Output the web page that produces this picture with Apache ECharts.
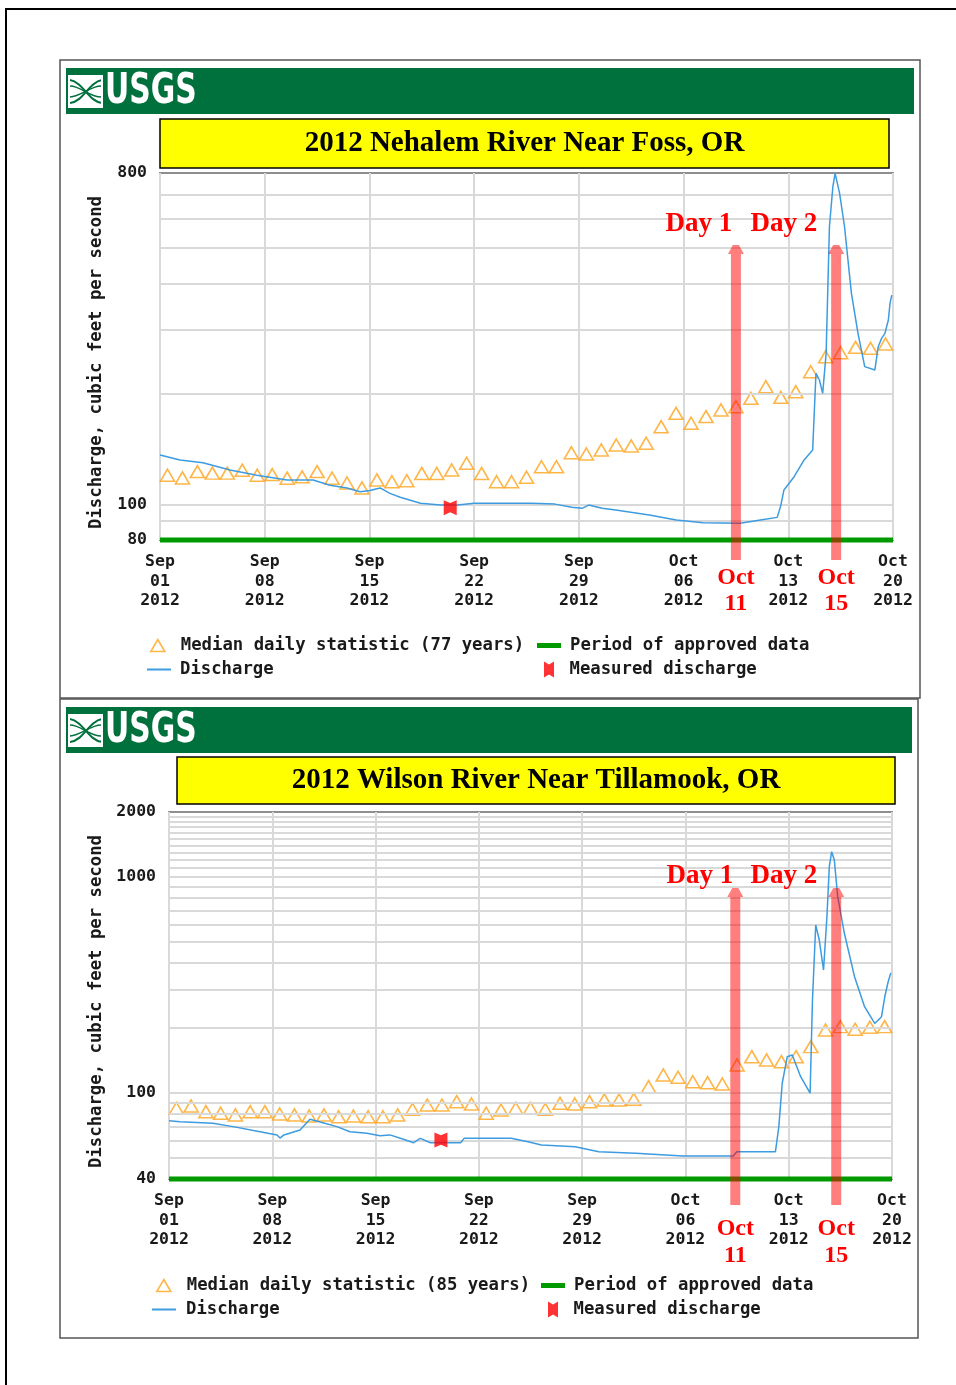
<!DOCTYPE html>
<html><head><meta charset="utf-8">
<script src="https://cdn.jsdelivr.net/npm/echarts@6/dist/echarts.min.js"></script>
<style>html,body{margin:0;padding:0;background:#fff}#c{width:956px;height:1385px}</style>
</head><body><div id="c"></div>
<script>
// ---------- DATA ----------
const xTickLabels = ['Sep\n01\n2012','Sep\n08\n2012','Sep\n15\n2012','Sep\n22\n2012','Sep\n29\n2012','Oct\n06\n2012','Oct\n13\n2012','Oct\n20\n2012'];
const titleTop = '2012 Nehalem River Near Foss, OR';
const titleBottom = '2012 Wilson River Near Tillamook, OR';
const medianNameTop = 'Median daily statistic (77 years)';
const medianNameBottom = 'Median daily statistic (85 years)';

// top chart (Nehalem) - days since Sep 1 2012
const topYLabels = [80, 100, 800];
const topGridValues = [90, 100, 200, 300, 400, 500, 600, 700];
const topMedian = [120.1,118.1,122.9,121.7,121.7,124,120.1,120.6,117.9,118.9,122.9,117.9,114.4,110.9,116.6,
  115.3,116,121.5,121.5,124.1,129.5,121.5,115.3,115.3,118.6,126.7,126.7,138.3,137.2,140.7,145.2,144.3,146.8,
  162.9,177.1,166.4,173.5,180.9,184.6,194.6,209.4,195.8,202.9,229.9,252.6,259,268,266.3,273.6];
const topDischarge = [[0,136.3],[1.34,132.2],[2.87,129.9],[4.68,124.1],[6.48,120.1],[8.49,116.6],[10.23,116.6],
  [11.36,112.8],[12.5,110.9],[13.37,108.3],[14.04,109.2],[14.71,110.9],[15.37,107.2],[16.06,104.6],[17.41,100.7],
  [18.76,99.6],[19.88,99.6],[21.01,100.7],[24.83,100.7],[26.4,100.2],[27.53,98.2],[28.21,97.6],[28.66,99.6],
  [29.56,97.6],[30.46,96.6],[32.71,93.6],[34.51,90.7],[36.31,89.2],[38.79,88.9],[40.14,90.7],[41.26,92.2],
  [41.49,99.0],[41.71,109.5],[42.39,119],[43.06,132.2],[43.63,140.7],[43.85,227.7],[44.08,218.3],[44.3,200.8],
  [44.53,258],[44.75,571],[44.98,734],[45.13,798],[45.43,704],[45.76,571],[46.22,376],[46.66,292.6],[47.11,237.4],
  [47.79,232.5],[48.01,269],[48.24,283.6],[48.46,292.6],[48.69,318],[48.8,353],[48.92,372]];
const topMeasured = [[19.4, 98]];
const topApproved = [0, 49];
const topArrows = [{day:38.5, tip:509, text:'11'}, {day:45.2, tip:509, text:'15'}];
const topDayLabels = [{day:36.03, value:581, text:'Day 1'}, {day:41.7, value:581, text:'Day 2'}];

// bottom chart (Wilson)
const bottomYLabels = [40, 100, 1000, 2000];
const bottomGridValues = [50,60,70,80,90,100,200,300,400,500,600,700,800,900,1000,1100,1200,1300,1400,1500,1600,1700,1800,1900];
const bottomMedian = [85,87.1,82,80.6,79.2,82,82,80,79.2,78.3,79.2,77.7,78.3,77.7,
  77.7,79.2,84.1,88,88,91.2,89,80.6,83.5,85,85,84.1,89.6,89,91.2,92.9,92.9,93.6,107,121.2,118.3,112.8,
  111.7,110.1,134.9,147.3,142.3,139.7,147.3,164,195.9,203,197.3,201.6,203];
const bottomDischarge = [[0,74.5],[0.75,73.7],[2.98,72.4],[4.34,69.9],[6.17,66.2],[7.32,64],[7.52,61.9],[7.79,64],
  [8.88,67.4],[9.55,75.6],[10.43,72.9],[11.38,69.9],[12.26,66.2],[13.41,65.1],[14.3,63.5],[14.97,64],[15.89,61.1],
  [16.58,58.9],[17.03,61.7],[17.72,58.9],[19.77,58.9],[20,61.7],[23.19,61.7],[24.33,59.5],[25.24,57.5],[27.53,56.4],
  [29.13,53.5],[31.63,52.6],[34.82,51.1],[38.24,51.1],[38.48,53.5],[41.1,53.5],[41.33,69.9],[41.56,111],[41.9,147.3],
  [42.24,150],[42.81,119],[43.45,99.8],[43.61,269.7],[43.83,599.7],[44.07,511],[44.36,371],[44.59,655.6],[44.75,1116],
  [44.91,1310],[45.09,1200],[45.32,811],[45.77,549],[46.46,345.8],[47.14,251],[47.83,210],[48.29,225.6],[48.51,279],
  [48.74,327.6],[48.92,360]];
const bottomMeasured = [[18.43, 60.6]];
const bottomApproved = [0, 49];
const bottomArrows = [{day:38.38, tip:890, text:'11'}, {day:45.22, tip:890, text:'15'}];
const bottomDayLabels = [{day:35.98, value:1012, text:'Day 1'}, {day:41.67, value:1012, text:'Day 2'}];

// ---------- STYLE ----------
const MONO = "'DejaVu Sans Mono','Liberation Mono',monospace";
const SERIF = "'Liberation Serif','Times New Roman',serif";
const NARROW = "'Liberation Sans Narrow','DejaVu Sans Condensed','Arial Narrow',sans-serif";
const TXT = '#1a1a1a';
const ORANGE = '#ffa31a', BLUE = '#3d9be0', GREEN = '#009900', RED = '#ff0000';
const MEAS_PATH = 'path://M0,0 L5,3 L10,0 L10,16 L5,13 L0,16 Z';

const chart = echarts.init(document.getElementById('c'));

function xAxisCfg(gi){
  return {type:'value', gridIndex:gi, min:0, max:49, interval:7,
    axisLine:{show:false}, axisTick:{show:false},
    splitLine:{show:true, lineStyle:{color:'#d9d9d9', width:2}},
    axisLabel:{formatter:v => xTickLabels[Math.round(v/7)], fontFamily:MONO, fontWeight:'bold', fontSize:16.5, lineHeight:19.5, color:TXT, margin:12}};
}
function yAxisCfg(gi, min, max, gap){
  return {type:'log', logBase:10, gridIndex:gi, min, max,
    axisLine:{show:false}, axisTick:{show:false}, splitLine:{show:false}, axisLabel:{show:false},
    name:'Discharge, cubic feet per second', nameLocation:'middle', nameRotate:90, nameGap:gap,
    nameTextStyle:{fontFamily:MONO, fontWeight:'bold', fontSize:17.3, color:TXT, padding:[0,12,0,0]}};
}
function gridSeries(gi, yMin, gridVals, labelVals){
  const data = gridVals.map(v => ({yAxis:v}));
  labelVals.forEach(v => data.push({yAxis:v, lineStyle:{color:'rgba(0,0,0,0)'},
    label:{show:true, position:'start', formatter:String(v), distance:13, fontFamily:MONO, fontWeight:'bold', fontSize:16.5, color:TXT}}));
  return {type:'line', name:'_grid'+gi, xAxisIndex:gi, yAxisIndex:gi, data:[[0,yMin]], symbol:'none',
    lineStyle:{width:0}, silent:true, z:1, animation:false,
    markLine:{silent:true, symbol:['none','none'], animation:false, label:{show:false},
      emphasis:{disabled:true}, lineStyle:{type:'solid', color:'#d9d9d9', width:2}, data}};
}
function chartSeries(gi, yMin, medianName, median, discharge, measured, approved){
  return [
    {type:'line', name:'Period of approved data', xAxisIndex:gi, yAxisIndex:gi, data:approved.map(d => [d, yMin]),
      symbol:'none', clip:false, lineStyle:{color:GREEN, width:5}, itemStyle:{color:GREEN}, z:3, animation:false},
    {type:'scatter', name:medianName, xAxisIndex:gi, yAxisIndex:gi, data:median.map((v,i) => [i+0.5, v]),
      symbol:'triangle', symbolSize:[14,12], itemStyle:{color:'rgba(0,0,0,0)', borderColor:ORANGE, borderWidth:1.6}, z:4, animation:false},
    {type:'line', name:'Discharge', xAxisIndex:gi, yAxisIndex:gi, data:discharge, symbol:'none',
      lineStyle:{color:BLUE, width:1.5}, itemStyle:{color:BLUE}, z:5, animation:false},
    {type:'scatter', name:'Measured discharge', xAxisIndex:gi, yAxisIndex:gi, data:measured, symbol:MEAS_PATH,
      symbolSize:[13,15], itemStyle:{color:RED}, z:6, animation:false}
  ];
}
function lg(name, left, top, icon, w, h, itemStyle, pad){
  return {left, top, padding:0, selectedMode:false, itemWidth:w, itemHeight:h, orient:'horizontal',
    data:[{name, icon, itemStyle}],
    textStyle:{fontFamily:MONO, fontWeight:'bold', fontSize:17.3, color:TXT, padding:[0,0,0,pad]}};
}
const medStyle = {color:'rgba(0,0,0,0)', borderColor:ORANGE, borderWidth:1.6};

const option = {
  backgroundColor:'#fff',
  animation:false,
  grid:[
    {left:160, top:173, width:733, height:367, show:true, borderColor:'#8e8e8e', borderWidth:2, backgroundColor:'#fff'},
    {left:169, top:812, width:723, height:367, show:true, borderColor:'#8e8e8e', borderWidth:2, backgroundColor:'#fff'}
  ],
  xAxis:[xAxisCfg(0), xAxisCfg(1)],
  yAxis:[yAxisCfg(0, 80, 800, 54.5), yAxisCfg(1, 40, 2000, 63.5)],
  legend:[
    lg(medianNameTop, 150, 637, 'triangle', 14, 12, medStyle, 11),
    lg('Period of approved data', 537, 637, 'rect', 24, 5, {color:GREEN}, 4),
    lg('Discharge', 147, 661, 'rect', 24, 2, {color:BLUE}, 4),
    lg('Measured discharge', 544, 661, MEAS_PATH, 11, 16, {color:RED}, 10),
    lg(medianNameBottom, 156, 1277, 'triangle', 14, 12, medStyle, 11),
    lg('Period of approved data', 541, 1277, 'rect', 24, 5, {color:GREEN}, 4),
    lg('Discharge', 152, 1301, 'rect', 24, 2, {color:BLUE}, 5),
    lg('Measured discharge', 548, 1301, MEAS_PATH, 11, 16, {color:RED}, 10)
  ],
  series:[
    gridSeries(0, 80, topGridValues, topYLabels),
    ...chartSeries(0, 80, medianNameTop, topMedian, topDischarge, topMeasured, topApproved),
    gridSeries(1, 40, bottomGridValues, bottomYLabels),
    ...chartSeries(1, 40, medianNameBottom, bottomMedian, bottomDischarge, bottomMeasured, bottomApproved)
  ]
};
chart.setOption(option);

// ---------- DECORATION (frames, banners, titles) ----------
function logo(x, y){
  return {type:'group', x, y, silent:true, children:[
    {type:'rect', shape:{x:0, y:0, width:33, height:31}, style:{fill:'#fff'}},
    {type:'bezierCurve', shape:{x1:1,y1:4,x2:33,y2:27,cpx1:14,cpy1:6,cpx2:20,cpy2:26}, style:{stroke:'#00703c', lineWidth:2, fill:'none'}},
    {type:'bezierCurve', shape:{x1:1,y1:27,x2:33,y2:4,cpx1:14,cpy1:26,cpx2:20,cpy2:6}, style:{stroke:'#00703c', lineWidth:2, fill:'none'}},
    {type:'bezierCurve', shape:{x1:1,y1:10,x2:33,y2:21,cpx1:12,cpy1:10,cpx2:22,cpy2:22}, style:{stroke:'#00703c', lineWidth:1.5, fill:'none'}},
    {type:'bezierCurve', shape:{x1:1,y1:21,x2:33,y2:10,cpx1:12,cpy1:21,cpx2:22,cpy2:9}, style:{stroke:'#00703c', lineWidth:1.5, fill:'none'}},
    {type:'rect', shape:{x:0, y:0, width:33, height:31}, style:{fill:'none', stroke:'#fff', lineWidth:2}},
    {type:'text', x:36, y:16, scaleX:0.79, style:{text:'USGS', fill:'#fff', fontFamily:NARROW, fontWeight:'bold', fontSize:42, verticalAlign:'middle', align:'left'}}
  ]};
}
const deco = [
  {type:'rect', shape:{x:6, y:9, width:980, height:1420}, style:{fill:'none', stroke:'#000', lineWidth:2}, silent:true},
  {type:'rect', shape:{x:60, y:60, width:860, height:638}, style:{fill:'none', stroke:'#555', lineWidth:1.5}, silent:true},
  {type:'rect', shape:{x:60, y:699, width:858, height:639}, style:{fill:'none', stroke:'#555', lineWidth:1.5}, silent:true},
  {type:'rect', shape:{x:66, y:68, width:848, height:46}, style:{fill:'#00703c'}, silent:true},
  {type:'rect', shape:{x:66, y:707, width:846, height:46}, style:{fill:'#00703c'}, silent:true},
  {type:'rect', shape:{x:160, y:119, width:729, height:49}, style:{fill:'#ffff00', stroke:'#000', lineWidth:1.5}, silent:true},
  {type:'rect', shape:{x:177, y:757, width:718, height:47}, style:{fill:'#ffff00', stroke:'#000', lineWidth:1.5}, silent:true},
  {type:'text', x:524.5, y:144, silent:true, style:{text:titleTop, fill:'#000', fontFamily:SERIF, fontWeight:'bold', fontSize:29, align:'center', verticalAlign:'middle'}},
  {type:'text', x:536, y:781, silent:true, style:{text:titleBottom, fill:'#000', fontFamily:SERIF, fontWeight:'bold', fontSize:29, align:'center', verticalAlign:'middle'}},
  logo(69, 76),
  logo(69, 715)
];

// ---------- ANNOTATIONS (placed through the axes) ----------
function annotations(gi, yMin, arrows, dayLabels, arrowBottomOff, octOff, numOff){
  const els = [];
  arrows.forEach(a => {
    const p = chart.convertToPixel({gridIndex:gi}, [a.day, a.tip]);
    const base = chart.convertToPixel({gridIndex:gi}, [a.day, yMin]);
    const x = p[0], yt = p[1], yb = base[1] + arrowBottomOff;
    els.push({type:'polygon', silent:true, z:100, shape:{points:[[x-3,yt],[x+3,yt],[x+8,yt+9],[x+5,yt+9],[x+5,yb],[x-5,yb],[x-5,yt+9],[x-8,yt+9]]},
      style:{fill:'rgba(255,0,0,0.5)'}});
    els.push({type:'text', silent:true, z:100, x:x, y:base[1]+octOff, style:{text:'Oct', fill:RED, fontFamily:SERIF, fontWeight:'bold', fontSize:24, align:'center', verticalAlign:'middle'}});
    els.push({type:'text', silent:true, z:100, x:x, y:base[1]+numOff, style:{text:a.text, fill:RED, fontFamily:SERIF, fontWeight:'bold', fontSize:24, align:'center', verticalAlign:'middle'}});
  });
  dayLabels.forEach(d => {
    const p = chart.convertToPixel({gridIndex:gi}, [d.day, d.value]);
    els.push({type:'text', silent:true, z:100, x:p[0], y:p[1], style:{text:d.text, fill:RED, fontFamily:SERIF, fontWeight:'bold', fontSize:27, align:'center', verticalAlign:'middle'}});
  });
  return els;
}
const ann = [
  ...annotations(0, 80, topArrows, topDayLabels, 20, 38, 64),
  ...annotations(1, 40, bottomArrows, bottomDayLabels, 26, 50, 77)
];
chart.setOption({graphic:{elements:[...deco, ...ann]}});
</script>
</body></html>
